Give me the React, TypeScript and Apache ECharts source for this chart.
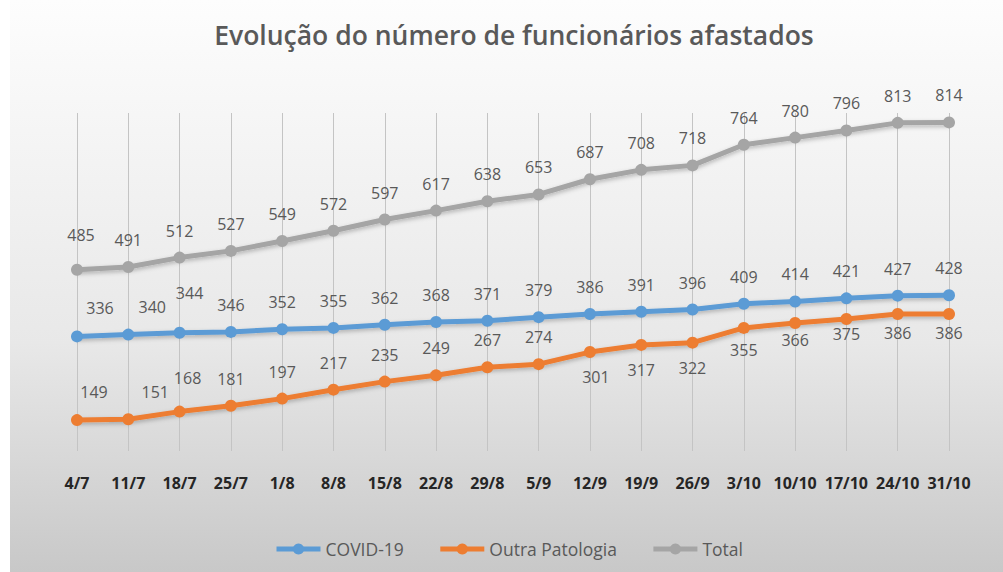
import React, { useEffect, useRef } from "react";
import * as echarts from "echarts";

const categories = ["4/7", "11/7", "18/7", "25/7", "1/8", "8/8", "15/8", "22/8", "29/8", "5/9", "12/9", "19/9", "26/9", "3/10", "10/10", "17/10", "24/10", "31/10"];
const covid = [336, 340, 344, 346, 352, 355, 362, 368, 371, 379, 386, 391, 396, 409, 414, 421, 427, 428];
const outra = [149, 151, 168, 181, 197, 217, 235, 249, 267, 274, 301, 317, 322, 355, 366, 375, 386, 386];
const total = [485, 491, 512, 527, 549, 572, 597, 617, 638, 653, 687, 708, 718, 764, 780, 796, 813, 814];
const seriesNames = ["COVID-19", "Outra Patologia", "Total"];

const titleText = "Evolução do número de funcionários afastados";

// label placement tweaks (style only): index -> [dx, dy, below?]
const covidTweaks: Record<number, [number, number, boolean]> = {
  0: [23, -1, false],
  1: [24, -1, false],
  2: [10, -13, false],
};
const outraTweaks: Record<number, [number, number, boolean]> = {
  0: [17, -1, false],
  1: [27, 0, false],
  2: [8, -7, false],
  10: [6, 0, true],
  11: [0, 0, true],
  12: [0, 0, true],
  13: [0, -3, true],
  14: [0, -8, true],
  15: [0, -10, true],
  16: [0, -6, true],
  17: [0, -6, true],
};
const totalTweaks: Record<number, [number, number, boolean]> = {
  0: [4, -8, false],
};

const FONT = "'Open Sans', 'Noto Sans', sans-serif";

function buildData(values: number[], tweaks: Record<number, [number, number, boolean]>) {
  return values.map((v, i) => {
    const t = tweaks[i];
    if (!t) return { value: v };
    return {
      value: v,
      label: t[2]
        ? { position: "bottom", distance: 11, offset: [t[0], t[1]] }
        : { position: "top", distance: 13, offset: [t[0], t[1]] },
    };
  });
}

function mkSeries(name: string, values: number[], color: string, tweaks: Record<number, [number, number, boolean]>, z: number) {
  return {
    type: "line",
    name,
    data: buildData(values, tweaks),
    symbol: "circle",
    symbolSize: 12,
    z,
    lineStyle: {
      width: 5,
      color,
      shadowBlur: 4,
      shadowColor: "rgba(0,0,0,0.25)",
      shadowOffsetY: 2,
    },
    itemStyle: { color },
    label: {
      show: true,
      position: "top",
      distance: 13,
      color: "#595959",
      fontSize: 16,
      fontFamily: FONT,
    },
  };
}

export default function App() {
  const ref = useRef<HTMLDivElement>(null);
  useEffect(() => {
    if (!ref.current) return;
    const chart = echarts.init(ref.current, undefined, { renderer: "svg" });
    chart.setOption({
      animation: false,
      backgroundColor: {
        type: "linear",
        x: 0,
        y: 0,
        x2: 0,
        y2: 1,
        colorStops: [
          { offset: 0, color: "#fdfdfd" },
          { offset: 0.2, color: "#f6f6f6" },
          { offset: 0.6, color: "#e8e8e8" },
          { offset: 1, color: "#c8c8c8" },
        ],
      },
      graphic: [
        {
          type: "rect",
          shape: { x: 0, y: 0, width: 10, height: 572 },
          style: { fill: "#ffffff" },
          silent: true,
        },
        {
          type: "text",
          x: 514,
          y: 35,
          style: {
            text: titleText,
            textAlign: "center",
            textVerticalAlign: "middle",
            fontFamily: FONT,
            fontSize: 26.5,
            fontWeight: 600,
            fill: "#595959",
          },
          silent: true,
        },
      ],
      legend: {
        top: 535,
        left: 269,
        itemWidth: 44,
        itemHeight: 14,
        itemGap: 34,
        lineStyle: { width: 5 },
        textStyle: { fontFamily: FONT, fontSize: 17.5, color: "#595959" },
        data: seriesNames,
      },
      grid: { left: 77, right: 54, top: 113, bottom: 121, containLabel: false },
      xAxis: {
        type: "category",
        data: categories,
        boundaryGap: false,
        axisLine: { show: false },
        axisTick: { show: false },
        axisLabel: {
          interval: 0,
          margin: 24,
          fontFamily: FONT,
          fontSize: 16,
          fontWeight: "bold",
          color: "#262626",
        },
        splitLine: { show: true, lineStyle: { color: "#c4c4c4", width: 1 } },
      },
      yAxis: {
        type: "value",
        min: 80,
        max: 835,
        show: false,
        splitLine: { show: false },
      },
      series: [
        mkSeries(seriesNames[0], covid, "#5b9bd5", covidTweaks, 3),
        mkSeries(seriesNames[1], outra, "#ed7d31", outraTweaks, 2),
        mkSeries(seriesNames[2], total, "#a5a5a5", totalTweaks, 4),
      ],
    });
    return () => chart.dispose();
  }, []);
  return <div ref={ref} style={{ position: "absolute", left: 0, top: 0, width: 1003, height: 572 }} />;
}
